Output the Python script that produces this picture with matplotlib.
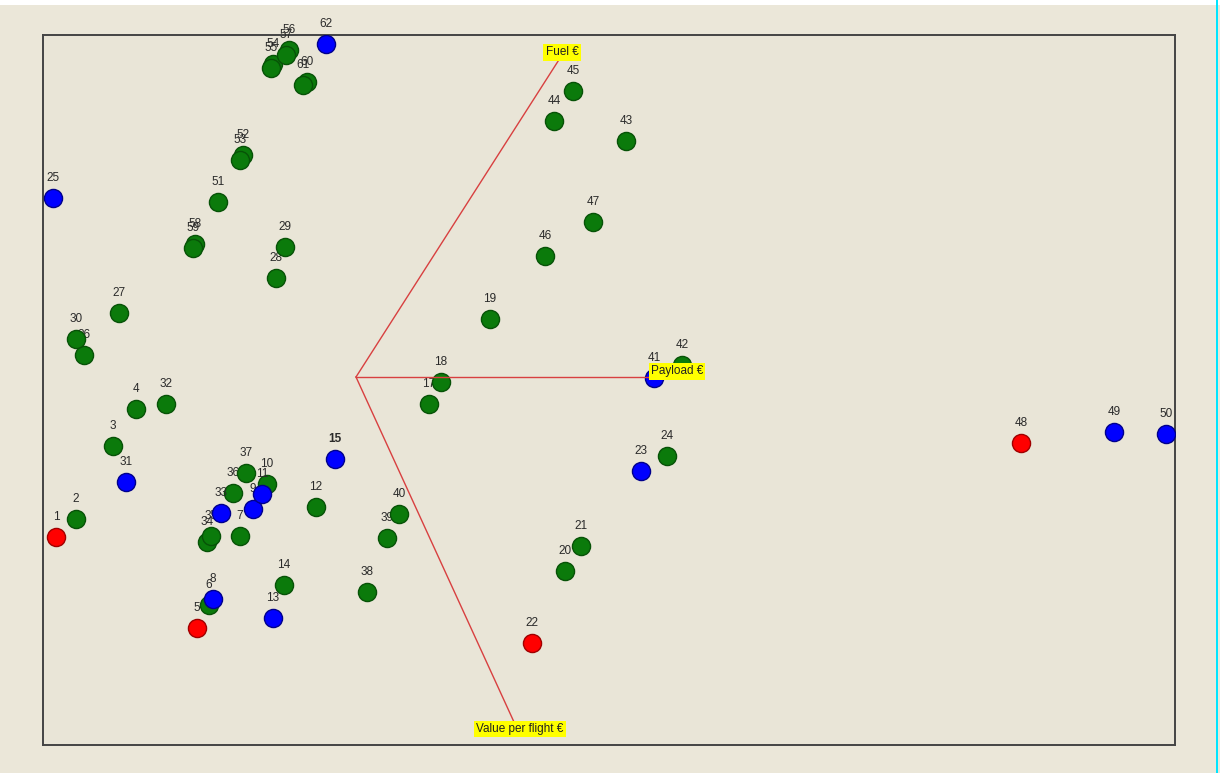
import matplotlib.pyplot as plt
from matplotlib.patches import Rectangle

# observation scores (PC1, PC2) and group
ids = [1, 2, 3, 4, 5, 6, 7, 8, 9, 10, 11, 12, 13, 14, 15, 17, 18, 19, 20, 21,
       22, 23, 24, 25, 26, 27, 28, 29, 30, 31, 32, 33, 34, 35, 36, 37, 38, 39, 40, 41,
       42, 43, 44, 45, 46, 47, 48, 49, 50, 51, 52, 53, 54, 55, 56, 57, 58, 59, 60, 61, 62]
pc1 = [-3.00, -2.80, -2.43, -2.20, -1.59, -1.47, -1.16, -1.43, -1.03, -0.89, -0.94, -0.40, -0.83, -0.72, -0.21,
       0.73, 0.85, 1.34, 2.09, 2.25, 1.76, 2.85, 3.11, -3.03, -2.72, -2.37, -0.80, -0.71, -2.80, -2.30,
       -1.90, -1.35, -1.49, -1.45, -1.23, -1.10, 0.11, 0.31, 0.43, 2.98, 3.26, 2.70, 1.98, 2.17, 1.89,
       2.37, 6.65, 7.58, 8.10, -1.38, -1.13, -1.16, -0.83, -0.85, -0.67, -0.70, -1.61, -1.63, -0.49, -0.53, -0.30]
pc2 = [-1.60, -1.42, -0.69, -0.32, -2.51, -2.28, -1.59, -2.22, -1.32, -1.07, -1.17, -1.30, -2.41, -2.08, -0.82,
       -0.27, -0.05, 0.58, -1.94, -1.69, -2.66, -0.94, -0.79, 1.79, 0.22, 0.64, 0.99, 1.30, 0.38, -1.05,
       -0.27, -1.36, -1.65, -1.59, -1.16, -0.96, -2.15, -1.61, -1.37, -0.01, 0.12, 2.36, 2.56, 2.86, 1.21,
       1.55, -0.66, -0.55, -0.57, 1.75, 2.22, 2.17, 3.13, 3.09, 3.27, 3.22, 1.33, 1.29, 2.95, 2.92, 3.33]
group = ['r', 'g', 'g', 'g', 'r', 'g', 'g', 'b', 'b', 'g', 'b', 'g', 'b', 'g', 'b',
         'g', 'g', 'g', 'g', 'g', 'r', 'b', 'g', 'b', 'g', 'g', 'g', 'g', 'g', 'b',
         'g', 'b', 'g', 'g', 'g', 'g', 'g', 'g', 'g', 'b', 'g', 'g', 'g', 'g', 'g',
         'g', 'r', 'b', 'b', 'g', 'g', 'g', 'g', 'g', 'g', 'g', 'g', 'g', 'g', 'g', 'b']

# variable loadings
var_names = ['Fuel €', 'Payload €', 'Value per flight €']
load_x = [2.06, 3.21, 1.58]
load_y = [3.22, 0.00, -3.45]
label_shift = [(0, 2), (0, 4), (4, -5)]  # points, nudges for the yellow tags

colors = {'g': ('#0b7a0b', '#075207'),
          'b': ('#0000ff', '#00008c'),
          'r': ('#ff0000', '#a00000')}

plt.rcParams['font.family'] = ['Liberation Sans', 'DejaVu Sans']

bg = '#ebe7d9'
fig = plt.figure(figsize=(12.2, 7.73), dpi=100, facecolor=bg)
ax = fig.add_axes([43 / 1220, 28 / 773, 1132 / 1220, 710 / 773])
ax.set_facecolor('#e9e5d7')
ax.set_xlim(-3.13, 8.19)
ax.set_ylim(-3.68, 3.42)
ax.set_xticks([])
ax.set_yticks([])
for s in ax.spines.values():
    s.set_color('#444444')
    s.set_linewidth(1.4)

# draw groups: green first, then blue, then red
z = 2
for g in ['g', 'b', 'r']:
    for i, x, y, gr in zip(ids, pc1, pc2, group):
        if gr != g:
            continue
        face, edge = colors[gr]
        ax.scatter(x, y, s=170, c=face, edgecolors=edge, linewidths=1.0, zorder=z)
        ax.annotate(str(i), (x, y), xytext=(0, 14.5), textcoords='offset points',
                    ha='center', va='center', fontsize=8.5, color='#2a2a2a',
                    fontweight='bold' if i == 15 else 'normal', zorder=z + 1)
        z += 2

# loading vectors
for name, lx, ly, sh in zip(var_names, load_x, load_y, label_shift):
    ax.plot([0, lx], [0, ly], color='#d84040', lw=1.0, zorder=500)
    ax.annotate(name, (lx, ly), xytext=sh, textcoords='offset points',
                ha='center', va='center', fontsize=8.5, color='#222222',
                bbox=dict(boxstyle='square,pad=0.2', fc='#ffff00', ec='none'), zorder=501)

# white strip at top and cyan edge at right, as in the screenshot
fig.patches.append(Rectangle((0, 1 - 5 / 773), 1, 5 / 773, transform=fig.transFigure,
                             facecolor='white', edgecolor='none'))
fig.patches.append(Rectangle((1216 / 1220, 0), 2 / 1220, 1, transform=fig.transFigure,
                             facecolor='#00e5ff', edgecolor='none'))

plt.savefig('out.png', dpi=100, facecolor=bg)
